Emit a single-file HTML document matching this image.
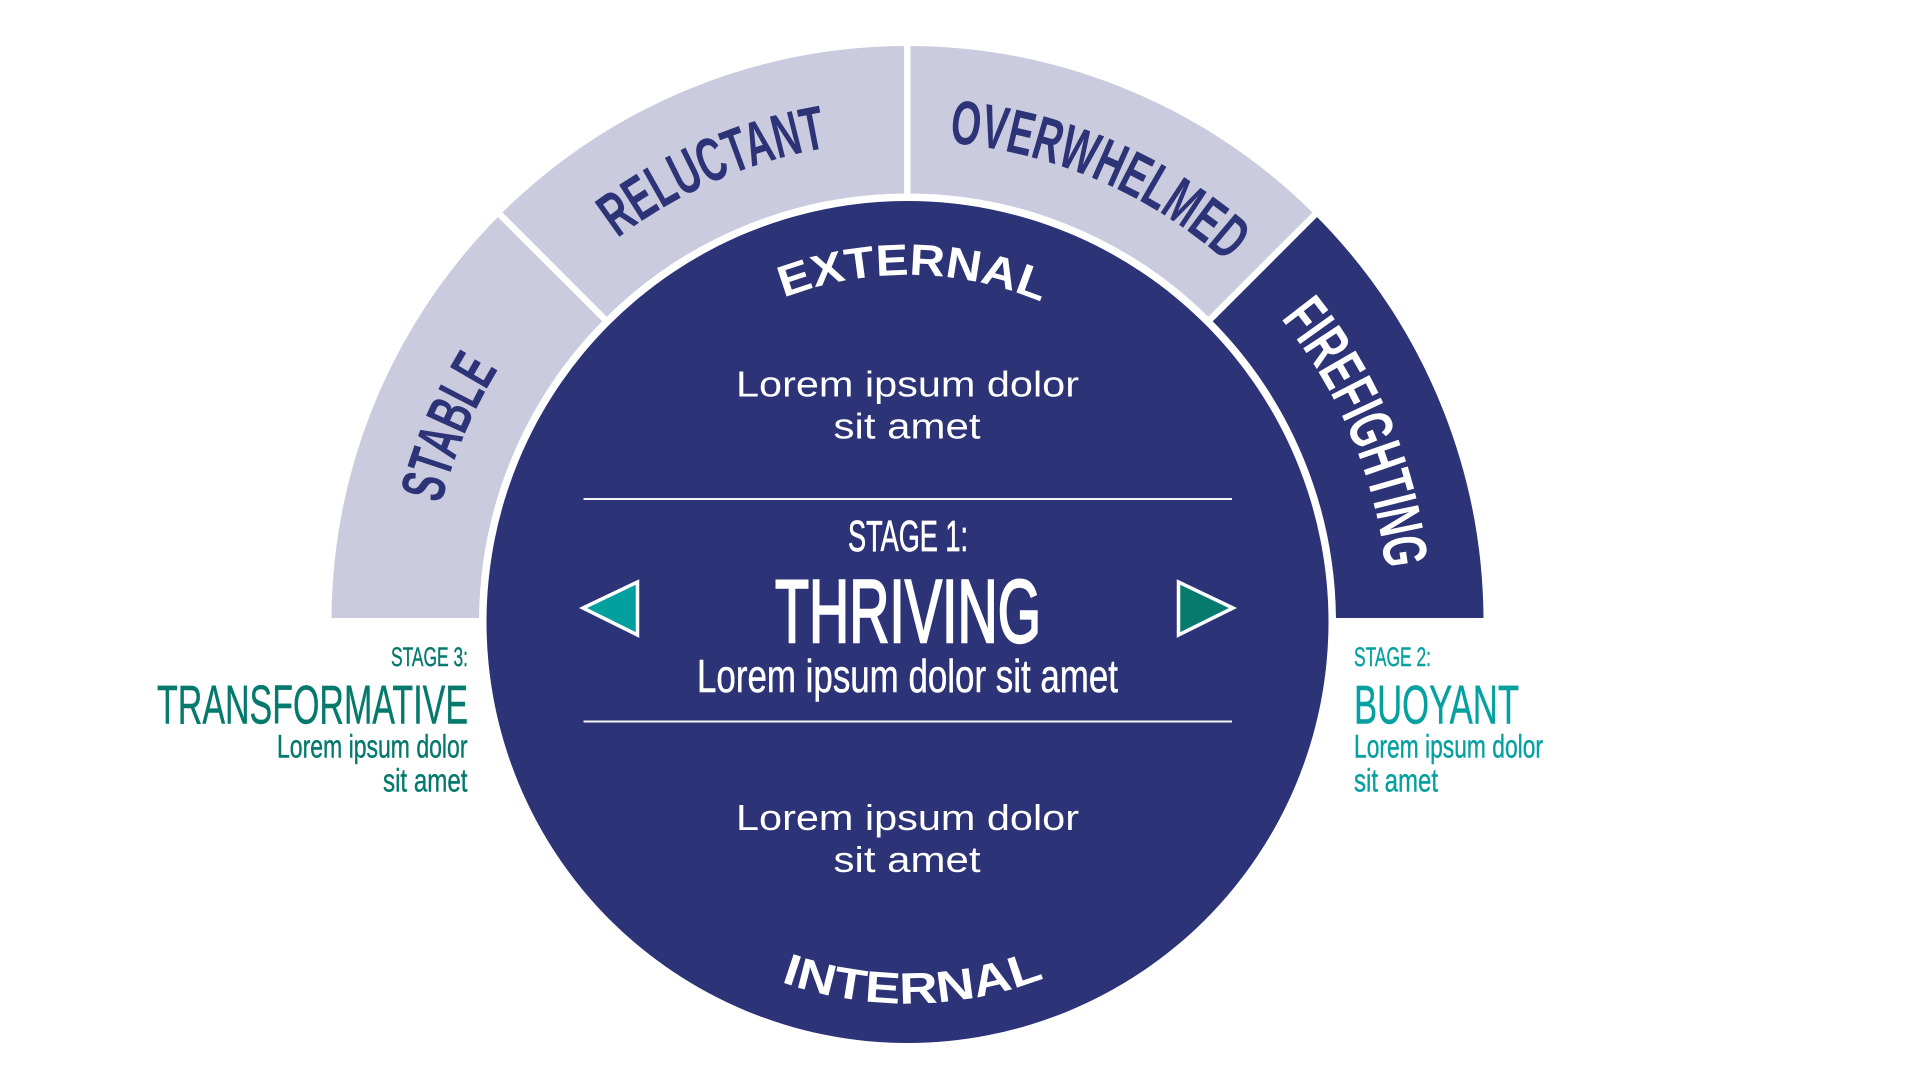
<!DOCTYPE html>
<html><head><meta charset="utf-8"><style>
html,body{margin:0;padding:0;background:#fff}
svg{display:block}
text{font-family:"Liberation Sans",sans-serif}
.n{font-weight:700;font-size:62px;fill:#2c3376}
</style></head><body>
<svg width="1920" height="1080" viewBox="0 0 1920 1080" xmlns="http://www.w3.org/2000/svg">
<defs>
<path id="pS" d="M441.2 504A481 481 0 0 1 667 205.4"/>
<path id="pR" d="M617.4 238.4A481 481 0 0 1 907.5 141"/>
<path id="pO" d="M949 142.8A481 481 0 0 1 1324 381.5"/>
<path id="pF" d="M1280.8 318.6A481 481 0 0 1 1381.2 705.5"/>
<path id="pE" d="M783.7 297.8A347 347 0 0 1 1130.5 356.2"/>
<path id="pI" d="M780.8 981.8A381.5 381.5 0 0 0 1152.7 914.2"/>
<clipPath id="band"><rect x="0" y="0" width="1920" height="618"/></clipPath>
<clipPath id="sector"><polygon points="911.5,618 1607.5,-78 1900,-78 1900,618"/></clipPath>
</defs>
<rect width="1920" height="1080" fill="#fff"/>
<circle cx="907.5" cy="622" r="502.25" fill="none" stroke="#cacbde" stroke-width="147.5" clip-path="url(#band)"/>
<circle cx="907.5" cy="622" r="502.25" fill="none" stroke="#2c3376" stroke-width="147.5" clip-path="url(#sector)"/>
<path d="M907.3 40V200M499 213.5L610 324.5M1316 213.5L1205 324.5" stroke="#fff" stroke-width="6.5" fill="none"/>
<circle cx="907.5" cy="622" r="421" fill="#2c3376"/>

<text class="n"><textPath href="#pS" textLength="147" lengthAdjust="spacingAndGlyphs">STABLE</textPath></text>
<text class="n"><textPath href="#pR" textLength="231" lengthAdjust="spacingAndGlyphs">RELUCTANT</textPath></text>
<text class="n"><textPath href="#pO" textLength="308" lengthAdjust="spacingAndGlyphs">OVERWHELMED</textPath></text>
<text class="n" style="fill:#fff"><textPath href="#pF" textLength="275" lengthAdjust="spacingAndGlyphs">FIREFIGHTING</textPath></text>

<text font-weight="700" font-size="44" fill="#fff"><textPath href="#pE" textLength="264" lengthAdjust="spacingAndGlyphs">EXTERNAL</textPath></text>
<text font-weight="700" font-size="44" fill="#fff"><textPath href="#pI" textLength="269" lengthAdjust="spacingAndGlyphs">INTERNAL</textPath></text>

<g fill="#fff" font-size="36.5">
<text x="736" y="396.5" textLength="343" lengthAdjust="spacingAndGlyphs">Lorem ipsum dolor</text>
<text x="833.5" y="438.5" textLength="147" lengthAdjust="spacingAndGlyphs">sit amet</text>
<text x="736" y="830" textLength="343" lengthAdjust="spacingAndGlyphs">Lorem ipsum dolor</text>
<text x="833.5" y="872" textLength="147" lengthAdjust="spacingAndGlyphs">sit amet</text>
</g>

<path d="M583.5 504H1232M583.5 726.5H1232" stroke="#f4f4f8" stroke-width="2" transform="translate(0,-5)"/>

<g fill="#fff">
<text x="848" y="551" font-size="43.5" textLength="120" lengthAdjust="spacingAndGlyphs" stroke="#fff" stroke-width=".7">STAGE 1:</text>
<text x="775" y="642" font-size="89.5" textLength="266" lengthAdjust="spacingAndGlyphs" stroke="#fff" stroke-width="2.4">THRIVING</text>
<text x="697" y="692" font-size="46" textLength="421" lengthAdjust="spacingAndGlyphs" stroke="#fff" stroke-width=".5">Lorem ipsum dolor sit amet</text>
</g>

<path d="M583 608L637.5 582V635Z" fill="#03a09f" stroke="#fff" stroke-width="3.5"/>
<path d="M1233 608L1178.5 582V635Z" fill="#067a6e" stroke="#fff" stroke-width="3.5"/>

<g fill="#04796c" stroke="#04796c" stroke-width=".4">
<text x="391" y="666" font-size="26.6" textLength="77" lengthAdjust="spacingAndGlyphs">STAGE 3:</text>
<text x="157" y="723.3" font-size="54.7" textLength="311" lengthAdjust="spacingAndGlyphs">TRANSFORMATIVE</text>
<text x="277" y="757.3" font-size="32" textLength="190.5" lengthAdjust="spacingAndGlyphs">Lorem ipsum dolor</text>
<text x="383" y="791.7" font-size="32" textLength="84.5" lengthAdjust="spacingAndGlyphs">sit amet</text>
</g>
<g fill="#05a0a0" stroke="#05a0a0" stroke-width=".4">
<text x="1354" y="666" font-size="26.6" textLength="77" lengthAdjust="spacingAndGlyphs">STAGE 2:</text>
<text x="1354" y="723.3" font-size="54.7" textLength="165" lengthAdjust="spacingAndGlyphs">BUOYANT</text>
<text x="1354" y="757.3" font-size="32" textLength="189" lengthAdjust="spacingAndGlyphs">Lorem ipsum dolor</text>
<text x="1354" y="791.7" font-size="32" textLength="84" lengthAdjust="spacingAndGlyphs">sit amet</text>
</g>
</svg>
</body></html>
